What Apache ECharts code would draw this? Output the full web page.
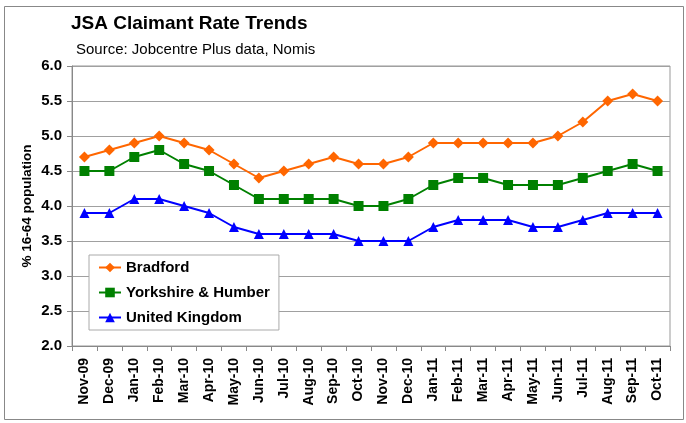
<!DOCTYPE html>
<html>
<head>
<meta charset="utf-8">
<script src="https://cdn.jsdelivr.net/npm/echarts@6/dist/echarts.min.js"></script>
<style>html,body{margin:0;padding:0;background:#fff}#c{width:686px;height:423px}</style>
</head>
<body>
<div id="c"></div>
<script>
const categories = ['Nov-09','Dec-09','Jan-10','Feb-10','Mar-10','Apr-10','May-10','Jun-10','Jul-10','Aug-10','Sep-10','Oct-10','Nov-10','Dec-10','Jan-11','Feb-11','Mar-11','Apr-11','May-11','Jun-11','Jul-11','Aug-11','Sep-11','Oct-11'];
const bradford = [4.7,4.8,4.9,5.0,4.9,4.8,4.6,4.4,4.5,4.6,4.7,4.6,4.6,4.7,4.9,4.9,4.9,4.9,4.9,5.0,5.2,5.5,5.6,5.5];
const yorkshire = [4.5,4.5,4.7,4.8,4.6,4.5,4.3,4.1,4.1,4.1,4.1,4.0,4.0,4.1,4.3,4.4,4.4,4.3,4.3,4.3,4.4,4.5,4.6,4.5];
const uk = [3.9,3.9,4.1,4.1,4.0,3.9,3.7,3.6,3.6,3.6,3.6,3.5,3.5,3.5,3.7,3.8,3.8,3.8,3.7,3.7,3.8,3.9,3.9,3.9];
const seriesNames = ['Bradford','Yorkshire & Humber','United Kingdom'];
const titleText = 'JSA Claimant Rate Trends';
const subtitleText = 'Source: Jobcentre Plus data, Nomis';
const yAxisName = '% 16-64 population';

const FONT = '"Liberation Sans", Arial, sans-serif';
const chart = echarts.init(document.getElementById('c'));
function mk(name, data, color, symbol, size) {
  return {
    name, type: 'line', data, symbol, symbolSize: size,
    itemStyle: { color }, lineStyle: { color, width: 2 },
    animation: false
  };
}
chart.setOption({
  backgroundColor: '#fff',
  animation: false,
  title: [
    { text: titleText, left: 66, top: 9,
      textStyle: { fontFamily: FONT, fontSize: 19, fontWeight: 'bold', color: '#000' } },
    { text: subtitleText, left: 71, top: 37,
      textStyle: { fontFamily: FONT, fontSize: 15, fontWeight: 'normal', color: '#000' } }
  ],
  graphic: [{
    type: 'rect', shape: { x: 4.5, y: 6.5, width: 679, height: 413 },
    style: { fill: 'none', stroke: '#888', lineWidth: 1 }, silent: true, z: -1
  }],
  legend: {
    orient: 'vertical', left: 89, top: 255,
    data: seriesNames,
    backgroundColor: '#fff', borderColor: '#aaa', borderWidth: 1, borderRadius: 0,
    padding: [5, 9, 5, 9], itemGap: 10, itemWidth: 22, itemHeight: 12,
    textStyle: { fontFamily: FONT, fontSize: 15, lineHeight: 15, fontWeight: 'bold', color: '#000' }
  },
  grid: { left: 72, right: 16, top: 66, bottom: 77, show: true, borderColor: '#999', borderWidth: 1, containLabel: false },
  xAxis: {
    type: 'category', data: categories, boundaryGap: true,
    axisLine: { lineStyle: { color: '#888' } },
    axisTick: { show: true, length: 5, lineStyle: { color: '#888' }, alignWithLabel: false },
    axisLabel: { rotate: 90, interval: 0, margin: 12, fontFamily: FONT, fontSize: 14, fontWeight: 'bold', color: '#000' },
    splitLine: { show: false }
  },
  yAxis: {
    type: 'value', min: 2.0, max: 6.0, interval: 0.5,
    name: yAxisName, nameLocation: 'middle', nameGap: 38, nameMoveOverlap: false,
    nameTextStyle: { fontFamily: FONT, fontSize: 13.5, fontWeight: 'bold', color: '#000' },
    axisLine: { show: true, lineStyle: { color: '#888' } },
    axisTick: { show: true, length: 5, lineStyle: { color: '#888' } },
    axisLabel: { formatter: v => v.toFixed(1), margin: 10, fontFamily: FONT, fontSize: 15, fontWeight: 'bold', color: '#000' },
    splitLine: { show: true, lineStyle: { color: '#a0a0a0' } }
  },
  series: [
    mk(seriesNames[0], bradford, '#FF6600', 'diamond', 11),
    mk(seriesNames[1], yorkshire, '#008000', 'rect', 10),
    mk(seriesNames[2], uk, '#0000FF', 'triangle', 10)
  ]
});
</script>
</body>
</html>
